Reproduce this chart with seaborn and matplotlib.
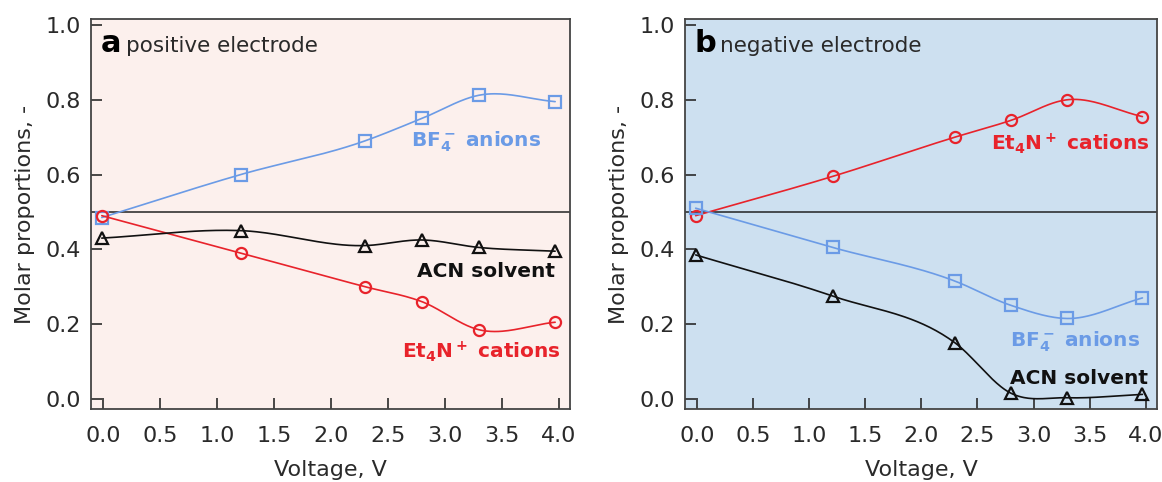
import numpy as np
import pandas as pd
import seaborn as sns
import matplotlib.pyplot as plt

sns.set_style("ticks")
plt.rcParams['font.family'] = ['DejaVu Sans']
plt.rcParams['mathtext.default'] = 'bf'

# measured voltages (same for both electrodes)
voltage = [-0.01, 1.21, 2.3, 2.8, 3.3, 3.97]

# positive electrode
pos_bf4 = [0.485, 0.60, 0.69, 0.75, 0.812, 0.795]
pos_et4n = [0.49, 0.39, 0.30, 0.26, 0.185, 0.205]
pos_acn = [0.43, 0.45, 0.41, 0.425, 0.405, 0.395]

# negative electrode
neg_et4n = [0.49, 0.595, 0.70, 0.745, 0.80, 0.755]
neg_bf4 = [0.51, 0.405, 0.315, 0.25, 0.215, 0.27]
neg_acn = [0.385, 0.275, 0.15, 0.015, 0.003, 0.012]

xticks = [0.0, 0.5, 1.0, 1.5, 2.0, 2.5, 3.0, 3.5, 4.0]
yticks = [0.0, 0.2, 0.4, 0.6, 0.8, 1.0]

BLUE = '#6b9be6'
RED = '#e8232b'
BLACK = '#111111'


def smooth(x, y, n=40):
    # cubic hermite curve through the points (only for the drawn line)
    x = np.asarray(x, float)
    y = np.asarray(y, float)
    m = np.gradient(y, x)
    xs, ys = [], []
    for i in range(len(x) - 1):
        h = x[i + 1] - x[i]
        t = np.linspace(0, 1, n)
        h00 = 2 * t**3 - 3 * t**2 + 1
        h10 = t**3 - 2 * t**2 + t
        h01 = -2 * t**3 + 3 * t**2
        h11 = t**3 - t**2
        xs.append(x[i] + t * h)
        ys.append(h00 * y[i] + h10 * h * m[i] + h01 * y[i + 1] + h11 * h * m[i + 1])
    return np.concatenate(xs), np.concatenate(ys)


def draw(ax, x, y, color, marker):
    sx, sy = smooth(x, y)
    sns.lineplot(x=sx, y=sy, ax=ax, color=color, lw=1.2, sort=False)
    ax.plot(x, y, ls='none', marker=marker, ms=8, mfc='none', mec=color, mew=1.6, zorder=4)


fig = plt.figure(figsize=(11.62, 4.82), dpi=100)
ax1 = fig.add_axes([0.0783, 0.1515, 0.4122, 0.8091])
ax2 = fig.add_axes([0.5895, 0.1515, 0.4062, 0.8091])

panels = [
    (ax1, '#fcf0ed', 'a', 'positive electrode',
     [(pos_bf4, BLUE, 's'), (pos_et4n, RED, 'o'), (pos_acn, BLACK, '^')]),
    (ax2, '#cde0f0', 'b', 'negative electrode',
     [(neg_et4n, RED, 'o'), (neg_bf4, BLUE, 's'), (neg_acn, BLACK, '^')]),
]

for ax, bg, letter, title, series in panels:
    ax.set_facecolor(bg)
    ax.axhline(0.5, color='#222222', lw=1.1, zorder=1)
    for vals, col, mk in series:
        draw(ax, voltage, vals, col, mk)
    ax.set_xlim(-0.105, 4.1)
    ax.set_ylim(-0.027, 1.016)
    ax.set_xticks(xticks)
    ax.set_yticks(yticks)
    ax.xaxis.set_major_formatter(plt.FormatStrFormatter('%.1f'))
    ax.yaxis.set_major_formatter(plt.FormatStrFormatter('%.1f'))
    ax.tick_params(direction='in', length=8, width=1.2, labelsize=16, colors='#2a2a2a', pad=7)
    ax.tick_params(axis='x', pad=12)
    for s in ax.spines.values():
        s.set_color('#444444')
        s.set_linewidth(1.3)
    ax.set_xlabel('Voltage, V', fontsize=16, color='#2a2a2a', labelpad=10)
    ax.set_ylabel('Molar proportions, -', fontsize=16, color='#2a2a2a', labelpad=8)
    ax.text(0.02, 0.915, letter, transform=ax.transAxes, fontsize=22, fontweight='bold',
            va='baseline', ha='left', color='black')
    ax.text(0.074, 0.915, title, transform=ax.transAxes, fontsize=15.5,
            va='baseline', ha='left', color='#2a2a2a')

# series labels
ax1.text(3.85, 0.675, r'BF$_4^-$ anions', color=BLUE, fontsize=14.5, fontweight='bold', ha='right')
ax1.text(3.97, 0.325, 'ACN solvent', color=BLACK, fontsize=14.5, fontweight='bold', ha='right')
ax1.text(4.02, 0.11, r'Et$_4$N$^+$ cations', color=RED, fontsize=14.5, fontweight='bold', ha='right')

ax2.text(4.04, 0.665, r'Et$_4$N$^+$ cations', color=RED, fontsize=14.5, fontweight='bold', ha='right')
ax2.text(3.95, 0.14, r'BF$_4^-$ anions', color=BLUE, fontsize=14.5, fontweight='bold', ha='right')
ax2.text(4.02, 0.04, 'ACN solvent', color=BLACK, fontsize=14.5, fontweight='bold', ha='right')

plt.savefig('out.png', dpi=100)
